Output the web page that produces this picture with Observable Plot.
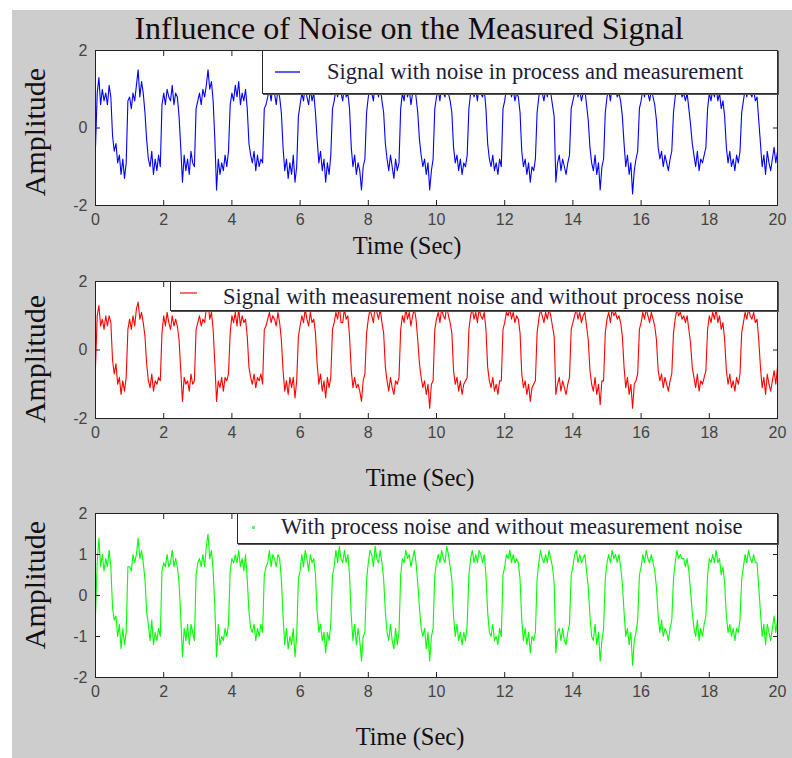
<!DOCTYPE html>
<html><head><meta charset="utf-8">
<script src="https://cdn.jsdelivr.net/npm/d3@7"></script>
<script src="https://cdn.jsdelivr.net/npm/@observablehq/plot@0.6"></script>
<style>
html,body{margin:0;padding:0;background:#fff;}
body{width:792px;height:758px;overflow:hidden;position:relative;font-family:"Liberation Serif","Times New Roman",Times,serif;}
#bg{position:absolute;left:12px;top:10px;width:780px;height:748px;background:#cdcdcd;}
.abs{position:absolute;white-space:nowrap;line-height:1;}
.title{left:409px;top:28px;transform:translate(-50%,-50%);font-size:32px;color:#140c0c;}
.ylab{font-size:30px;color:#141010;transform:translate(-50%,-50%) rotate(-90deg);}
.xlab{font-size:24.5px;color:#141010;transform:translate(-50%,-50%);}
.lbox{background:#fff;border:1px solid #2a2a2a;box-shadow:1px 1px 0 #555;box-sizing:border-box;}
.ltext{font-size:22.5px;color:#1c1c3a;transform:translateY(-50%);}
.panel{position:absolute;left:0;}
</style></head>
<body>
<div id="bg"></div>
<div class="abs title">Influence of Noise on the Measured Signal</div>
<div id="p1" class="panel" style="top:40px"></div>
<div id="p2" class="panel" style="top:271px"></div>
<div id="p3" class="panel" style="top:503px"></div>

<div class="abs ylab" style="left:35px;top:132px">Amplitude</div>
<div class="abs ylab" style="left:35px;top:359px">Amplitude</div>
<div class="abs ylab" style="left:35px;top:585px">Amplitude</div>
<div class="abs xlab" style="left:407px;top:246px">Time (Sec)</div>
<div class="abs xlab" style="left:420px;top:478px">Time (Sec)</div>
<div class="abs xlab" style="left:410px;top:737px">Time (Sec)</div>

<div class="abs lbox" style="left:262px;top:50px;width:516px;height:44px"></div>
<div class="abs" style="left:275px;top:71px;width:25px;height:2px;background:#5a5aff"></div>
<div class="abs ltext" style="left:327px;top:72px">Signal with noise in process and measurement</div>

<div class="abs lbox" style="left:170px;top:281px;width:608px;height:30px"></div>
<div class="abs" style="left:180px;top:292px;width:17px;height:2px;background:#ff6a6a"></div>
<div class="abs ltext" style="left:223px;top:297px">Signal with measurement noise and without process noise</div>

<div class="abs lbox" style="left:237px;top:513px;width:541px;height:31px"></div>
<div class="abs" style="left:252px;top:526px;width:3px;height:3px;background:#5aff5a"></div>
<div class="abs ltext" style="left:281px;top:527px">With process noise and without measurement noise</div>

<script>
// sample spacing of the recorded signal (seconds)
const sampleStep = 0.05;
const xTicks = [0, 2, 4, 6, 8, 10, 12, 14, 16, 18, 20];
const yTicksA = [-2, 0, 2];
const yTicksB = [-2, -1, 0, 1, 2];

// Signal with noise in process and measurement (one row per second)
const blueSignal = [
 -0.5, 0.9, 1.3, 0.6, 1.0, 0.7, 0.9, 0.6, 1.1, 0.8, -0.2, -0.6, -0.4, -0.9, -0.7, -1.2, -0.8, -1.3, -0.9, 0.7,
 0.8, 0.5, 0.9, 0.7, 1.1, 1.5, 0.8, 1.2, 0.9, 0.4, -0.3, -0.8, -1.0, -0.6, -1.2, -0.8, -1.1, -0.7, -1.0, 0.6,
 0.9, 0.6, 1.0, 0.8, 0.7, 1.1, 0.6, 0.9, 0.8, 0.3, -0.5, -1.4, -0.7, -1.1, -0.8, -1.2, -0.6, -0.9, -1.0, 0.5,
 0.7, 0.9, 0.6, 1.0, 0.8, 1.1, 1.5, 1.0, 1.2, 0.7, -0.3, -1.6, -0.8, -1.2, -0.9, -1.1, -0.7, -1.0, -0.6, 0.6,
 0.9, 0.7, 1.1, 0.8, 1.2, 0.6, 0.9, 0.7, 1.0, 0.5, -0.4, -0.7, -0.9, -0.6, -1.1, -0.7, -1.0, -0.8, -0.9, 0.5,
 0.6, 0.8, 1.0, 0.7, 1.1, 0.9, 0.6, 1.0, 0.8, 0.4, -0.5, -1.1, -0.8, -1.3, -0.9, -1.2, -0.7, -1.4, -1.0, 0.3,
 0.6, 0.9, 0.7, 1.1, 0.8, 0.6, 1.0, 0.7, 0.9, 0.4, -0.3, -0.9, -0.6, -1.1, -0.8, -1.4, -0.9, -1.2, -0.7, 0.5,
 0.7, 1.0, 0.8, 1.2, 0.9, 0.7, 1.1, 0.8, 0.9, 0.5, -0.5, -1.0, -0.7, -1.2, -0.9, -1.1, -1.6, -1.0, -0.8, 0.4,
 0.8, 1.1, 0.9, 0.7, 1.2, 1.0, 0.8, 1.1, 0.7, 0.4, -0.4, -0.8, -1.1, -0.7, -1.0, -1.3, -0.8, -1.1, -0.9, 0.5,
 0.9, 0.7, 1.1, 0.8, 1.0, 0.6, 0.9, 1.1, 0.8, 0.4, -0.3, -0.7, -1.0, -0.8, -1.2, -0.9, -1.6, -1.1, -0.8, 0.5,
 0.8, 1.0, 0.7, 1.1, 0.9, 0.8, 1.2, 0.9, 0.7, 0.4, -0.5, -0.9, -0.7, -1.1, -0.8, -1.2, -0.9, -1.0, -0.7, 0.5,
 0.9, 1.1, 0.8, 1.0, 0.7, 1.1, 0.9, 0.8, 1.0, 0.5, -0.4, -0.8, -1.0, -0.7, -1.1, -0.9, -1.2, -0.8, -1.0, 0.5,
 0.7, 1.0, 0.9, 1.1, 0.8, 1.0, 0.7, 0.9, 0.8, 0.4, -0.6, -1.0, -0.8, -1.2, -0.9, -1.4, -1.0, -1.1, -0.8, 0.4,
 0.8, 1.1, 0.9, 0.7, 1.0, 0.8, 1.1, 0.9, 0.6, 0.3, -1.4, -0.9, -0.7, -1.1, -0.8, -1.0, -1.2, -0.9, -0.7, 0.5,
 0.7, 0.9, 1.1, 0.8, 1.0, 0.7, 0.9, 1.0, 0.6, 0.2, -0.5, -0.9, -1.1, -0.7, -1.2, -0.9, -1.6, -1.0, -0.8, 0.4,
 0.8, 1.0, 0.7, 1.1, 0.9, 1.0, 0.8, 0.9, 0.7, 0.3, -0.4, -1.0, -0.7, -1.2, -0.9, -1.7, -1.1, -0.8, -0.6, 0.5,
 0.7, 1.0, 0.8, 1.1, 0.9, 0.7, 1.0, 0.8, 0.6, 0.2, -0.5, -0.8, -0.6, -1.0, -0.7, -0.9, -1.1, -0.8, -0.6, 0.4,
 0.8, 1.1, 0.9, 1.0, 0.8, 0.9, 0.7, 0.9, 0.5, 0.1, -0.4, -0.7, -1.0, -0.6, -1.1, -0.8, -0.9, -0.7, -0.5, 0.5,
 0.9, 0.7, 1.0, 0.8, 1.1, 0.7, 0.9, 0.5, 0.7, 0.3, -0.5, -0.9, -0.6, -1.0, -0.8, -1.1, -0.7, -0.9, -0.6, 0.4,
 0.7, 1.0, 0.8, 1.1, 0.9, 0.8, 1.0, 0.7, 0.8, 0.2, -0.4, -1.0, -0.7, -1.2, -0.6, -0.9, -1.1, -0.8, -0.5, -0.9,
 -0.6
];

// Signal with measurement noise and without process noise
const redSignal = [
 -0.5, 1.0, 1.3, 0.7, 0.9, 0.6, 1.0, 0.7, 1.0, 0.8, -0.3, -0.7, -0.4, -1.0, -0.8, -1.3, -0.9, -1.2, -0.8, 0.6,
 0.9, 0.6, 1.0, 0.7, 1.2, 1.4, 0.9, 1.1, 0.8, 0.4, -0.4, -0.9, -1.1, -0.7, -1.2, -0.9, -1.0, -0.8, -0.9, 0.5,
 1.0, 0.7, 1.1, 0.8, 0.6, 1.0, 0.7, 0.9, 0.7, 0.3, -0.6, -1.5, -0.8, -1.0, -0.9, -1.2, -0.7, -1.0, -0.9, 0.6,
 0.8, 1.0, 0.7, 0.9, 0.8, 1.2, 1.4, 0.9, 1.1, 0.6, -0.4, -1.5, -0.9, -1.1, -0.8, -1.2, -0.8, -0.9, -0.7, 0.5,
 1.0, 0.8, 1.1, 0.7, 1.2, 0.7, 1.0, 0.8, 0.9, 0.4, -0.5, -0.8, -1.0, -0.7, -1.1, -0.8, -0.9, -0.7, -1.0, 0.6,
 0.7, 0.9, 1.1, 0.8, 1.0, 0.9, 0.7, 1.1, 0.8, 0.3, -0.6, -1.2, -0.9, -1.3, -0.8, -1.1, -0.8, -1.4, -0.9, 0.4,
 0.7, 1.0, 0.8, 1.2, 0.9, 0.7, 1.1, 0.8, 0.9, 0.5, -0.4, -1.0, -0.7, -1.2, -0.9, -1.4, -0.8, -1.1, -0.8, 0.6,
 0.8, 1.1, 0.9, 1.3, 0.8, 0.8, 1.2, 0.9, 1.0, 0.4, -0.6, -1.1, -0.8, -1.1, -1.0, -1.2, -1.5, -0.9, -0.7, 0.5,
 0.9, 1.2, 1.0, 0.8, 1.3, 1.1, 0.9, 1.2, 0.8, 0.5, -0.5, -0.9, -1.2, -0.8, -1.1, -1.3, -0.9, -1.0, -0.8, 0.6,
 1.0, 0.8, 1.2, 0.9, 1.1, 0.7, 1.0, 1.2, 0.9, 0.3, -0.4, -0.8, -1.1, -0.9, -1.3, -1.0, -1.7, -1.0, -0.9, 0.6,
 0.9, 1.1, 0.8, 1.2, 1.0, 0.9, 1.3, 1.0, 0.8, 0.5, -0.6, -1.0, -0.8, -1.2, -0.9, -1.3, -1.0, -0.9, -0.8, 0.6,
 1.0, 1.2, 0.9, 1.1, 0.8, 1.2, 1.0, 0.9, 1.1, 0.6, -0.5, -0.9, -1.1, -0.8, -1.2, -1.0, -1.3, -0.9, -0.9, 0.6,
 0.8, 1.1, 1.0, 1.2, 0.9, 1.1, 0.8, 1.0, 0.9, 0.5, -0.7, -1.1, -0.9, -1.3, -1.0, -1.5, -1.1, -1.0, -0.9, 0.5,
 0.9, 1.2, 1.0, 0.8, 1.1, 0.9, 1.2, 1.0, 0.7, 0.4, -1.3, -1.0, -0.8, -1.2, -0.9, -1.1, -1.3, -1.0, -0.8, 0.6,
 0.8, 1.0, 1.2, 0.9, 1.1, 0.8, 1.0, 1.1, 0.7, 0.3, -0.6, -1.0, -1.2, -0.8, -1.3, -1.0, -1.6, -0.9, -0.9, 0.5,
 0.9, 1.1, 0.8, 1.2, 1.0, 1.1, 0.9, 1.0, 0.8, 0.4, -0.5, -1.1, -0.8, -1.3, -1.0, -1.7, -1.0, -0.9, -0.7, 0.6,
 0.8, 1.1, 0.9, 1.2, 1.0, 0.8, 1.1, 0.9, 0.7, 0.3, -0.6, -0.9, -0.7, -1.1, -0.8, -1.0, -1.2, -0.9, -0.7, 0.5,
 0.9, 1.2, 1.0, 1.1, 0.9, 1.0, 0.8, 1.0, 0.6, 0.2, -0.5, -0.8, -1.1, -0.7, -1.2, -0.9, -1.0, -0.8, -0.6, 0.6,
 1.0, 0.8, 1.1, 0.9, 1.2, 0.8, 1.0, 0.6, 0.8, 0.3, -0.6, -1.0, -0.7, -1.1, -0.9, -1.2, -0.8, -1.0, -0.7, 0.5,
 0.8, 1.1, 0.9, 1.2, 1.0, 0.9, 1.1, 0.8, 0.9, 0.3, -0.5, -1.1, -0.8, -1.3, -0.7, -1.0, -1.2, -0.9, -0.6, -1.0,
 -0.5
];

// With process noise and without measurement noise
const greenSignal = [
 -0.5, 0.8, 1.4, 0.7, 1.0, 0.6, 0.9, 0.7, 1.1, 0.7, -0.3, -0.6, -0.5, -1.0, -0.7, -1.3, -0.8, -1.2, -0.9, 0.7,
 0.7, 0.6, 1.0, 0.8, 1.0, 1.4, 0.9, 1.1, 0.8, 0.4, -0.4, -0.7, -1.1, -0.6, -1.2, -0.9, -1.1, -0.8, -1.0, 0.6,
 0.8, 0.7, 1.0, 0.7, 0.8, 1.1, 0.7, 0.9, 0.7, 0.3, -0.5, -1.5, -0.8, -1.1, -0.7, -1.2, -0.7, -0.9, -1.1, 0.5,
 0.8, 0.9, 0.7, 1.0, 0.7, 1.2, 1.5, 0.9, 1.1, 0.6, -0.3, -1.5, -0.7, -1.2, -1.0, -1.1, -0.8, -1.0, -0.7, 0.6,
 0.9, 0.8, 1.0, 0.8, 1.1, 0.7, 0.9, 0.6, 1.0, 0.4, -0.4, -0.8, -0.9, -0.7, -1.1, -0.8, -1.0, -0.7, -0.9, 0.5,
 0.7, 0.8, 1.1, 0.7, 1.0, 0.9, 0.7, 1.0, 0.9, 0.4, -0.5, -1.2, -0.8, -1.3, -1.0, -1.2, -0.8, -1.5, -1.0, 0.4,
 0.6, 1.0, 0.7, 1.1, 0.9, 0.6, 1.0, 0.8, 0.9, 0.5, -0.4, -0.9, -0.7, -1.1, -0.9, -1.4, -0.9, -1.1, -0.7, 0.5,
 0.7, 1.1, 0.8, 1.2, 0.9, 0.8, 1.1, 0.8, 1.0, 0.5, -0.5, -1.1, -0.7, -1.2, -0.8, -1.1, -1.6, -1.0, -0.9, 0.4,
 0.8, 1.1, 1.0, 0.7, 1.2, 0.9, 0.8, 1.1, 0.8, 0.4, -0.4, -0.9, -1.1, -0.7, -1.1, -1.3, -0.8, -1.2, -0.9, 0.5,
 0.9, 0.8, 1.1, 0.9, 1.0, 0.7, 0.9, 1.1, 0.8, 0.3, -0.3, -0.8, -1.0, -0.8, -1.3, -0.9, -1.6, -1.0, -0.8, 0.5,
 0.8, 1.0, 0.8, 1.1, 0.9, 0.8, 1.2, 1.0, 0.7, 0.4, -0.5, -1.0, -0.7, -1.1, -0.9, -1.2, -0.9, -1.1, -0.7, 0.5,
 0.9, 1.1, 0.8, 1.0, 0.8, 1.1, 1.0, 0.8, 1.0, 0.5, -0.4, -0.9, -1.0, -0.7, -1.1, -1.0, -1.2, -0.8, -1.0, 0.5,
 0.7, 1.0, 0.9, 1.1, 0.8, 1.0, 0.8, 0.9, 0.8, 0.4, -0.6, -1.1, -0.8, -1.2, -0.9, -1.4, -1.0, -1.1, -0.9, 0.4,
 0.8, 1.1, 0.9, 0.8, 1.0, 0.8, 1.1, 0.9, 0.7, 0.3, -1.4, -0.9, -0.8, -1.1, -0.8, -1.1, -1.2, -0.9, -0.7, 0.5,
 0.7, 1.0, 1.1, 0.8, 1.0, 0.8, 0.9, 1.0, 0.6, 0.2, -0.5, -1.0, -1.1, -0.7, -1.2, -0.9, -1.6, -1.1, -0.8, 0.4,
 0.8, 1.0, 0.8, 1.1, 0.9, 1.0, 0.8, 1.0, 0.7, 0.3, -0.4, -1.0, -0.8, -1.2, -0.9, -1.7, -1.1, -0.9, -0.6, 0.5,
 0.7, 1.0, 0.8, 1.1, 0.9, 0.8, 1.0, 0.8, 0.6, 0.2, -0.5, -0.9, -0.6, -1.0, -0.8, -0.9, -1.1, -0.8, -0.6, 0.4,
 0.8, 1.1, 0.9, 1.0, 0.9, 0.9, 0.7, 0.9, 0.6, 0.1, -0.4, -0.8, -1.0, -0.6, -1.1, -0.8, -1.0, -0.7, -0.5, 0.5,
 0.9, 0.8, 1.0, 0.8, 1.1, 0.8, 0.9, 0.5, 0.7, 0.3, -0.5, -0.9, -0.7, -1.0, -0.8, -1.1, -0.8, -0.9, -0.6, 0.4,
 0.7, 1.0, 0.8, 1.1, 0.9, 0.8, 1.0, 0.8, 0.8, 0.2, -0.4, -1.0, -0.7, -1.2, -0.7, -0.9, -1.1, -0.8, -0.5, -0.9,
 -0.6
];

function panel(values, color, yTicks, height, marginBottom) {
  const data = values.map((v, i) => ({t: i * sampleStep, v}));
  const fmt = d => String(d);
  return Plot.plot({
    width: 792, height,
    marginLeft: 95, marginRight: 15, marginTop: 10, marginBottom,
    style: {background: "transparent", fontFamily: "'Liberation Sans', Arial, sans-serif", fontSize: "16px", color: "#444", overflow: "visible"},
    x: {domain: [0, 20]},
    y: {domain: [-2, 2]},
    marks: [
      Plot.frame({fill: "white", stroke: null}),
      Plot.line(data, {x: "t", y: "v", stroke: color, strokeWidth: 1.1}),
      Plot.axisX({anchor: "bottom", ticks: xTicks, tickSize: -5, tickPadding: 13, tickFormat: fmt, label: null, stroke: "#222"}),
      Plot.axisX({anchor: "top", ticks: xTicks, tickSize: -5, tickFormat: () => "", label: null, stroke: "#222"}),
      Plot.axisY({anchor: "left", ticks: yTicks, tickSize: -5, tickPadding: 13, tickFormat: fmt, label: null, stroke: "#222"}),
      Plot.axisY({anchor: "right", ticks: yTicks, tickSize: -5, tickFormat: () => "", label: null, stroke: "#222"}),
      Plot.frame({stroke: "#222"})
    ]
  });
}

document.getElementById("p1").appendChild(panel(blueSignal, "#0000ff", yTicksA, 220, 55));
document.getElementById("p2").appendChild(panel(redSignal, "#ff0000", yTicksA, 200, 53));
document.getElementById("p3").appendChild(panel(greenSignal, "#00ff00", yTicksB, 230, 56));
</script>
</body></html>
